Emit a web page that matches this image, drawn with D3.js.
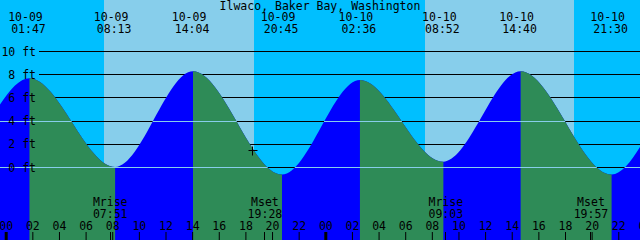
<!DOCTYPE html>
<html>
<head>
<meta charset="utf-8">
<script src="https://cdn.jsdelivr.net/npm/d3@7"></script>
<style>
  html, body { margin: 0; padding: 0; background: #fff; }
  svg { display: block; }
  text { font-family: 'DejaVu Sans Mono', monospace; font-size: 11.5px; fill: #000; }
</style>
</head>
<body>
<div id="chart"></div>
<script>
// tide chart data (times are MM-DD HH:MM local)
const stationName = "Ilwaco, Baker Bay, Washington";

// highs / lows; the first two and last two sit outside the chart edges
const tideTimes = ["10-08 13:20", "10-08 19:30", "10-09 01:47", "10-09 08:13", "10-09 14:04", "10-09 20:45",
                   "10-10 02:36", "10-10 08:52", "10-10 14:40", "10-10 21:30", "10-11 03:25", "10-11 09:30"];
const tideHeights = [8.2, -0.3, 7.7, 0.05, 8.3, -0.6, 7.55, 0.5, 8.3, -0.6, 7.4, 0.6];

const sunriseTimes = ["10-09 07:23", "10-10 07:29"];
const sunsetTimes = ["10-09 18:38", "10-10 18:40"];

const moonLabels = ["Mrise", "Mset", "Mrise", "Mset"];
const moonTimes = ["10-09 07:51", "10-09 19:28", "10-10 09:03", "10-10 19:57"];

const depthTicks = [0, 2, 4, 6, 8, 10];
const meanSeaLevel = 3.95;

const nowTime = "10-09 18:32";
const nowHeight = 1.45;

const W = 640, H = 240;
const colors = {
  night: '#00BFFF',
  day: '#87CEEB',
  flood: '#0000FF',
  ebb: '#2E8B57',
  under: '#87CEEB'
};

const parseTime = s => d3.utcParse("%Y-%m-%d %H:%M")("2024-" + s);

const tides = tideTimes.map((t, i) => ({ t: parseTime(t), h: tideHeights[i] }));

// x: two midnights anchor the scale, y: 0 ft and 10 ft lines
const x = d3.scaleUtc()
    .domain([parseTime("10-09 00:00"), parseTime("10-10 00:00")])
    .range([5.7, 325.3]);
const y = d3.scaleLinear().domain([0, 10]).range([167.5, 51.5]);

const svg = d3.select("#chart").append("svg")
    .attr("width", W)
    .attr("height", H);

// 1. night / day background
svg.append("rect").attr("width", W).attr("height", H).attr("fill", colors.night);
svg.append("g")
  .selectAll("rect")
  .data(sunriseTimes.map((s, i) => [parseTime(s), parseTime(sunsetTimes[i])]))
  .join("rect")
    .attr("x", d => Math.round(x(d[0])))
    .attr("width", d => Math.round(x(d[1])) - Math.round(x(d[0])))
    .attr("y", 0)
    .attr("height", H)
    .attr("fill", colors.day);

// 2. depth lines (under the water)
const crisp = v => Math.floor(v) + 0.5;
svg.append("g")
    .attr("stroke", "#000")
    .attr("shape-rendering", "crispEdges")
  .selectAll("line")
  .data(depthTicks)
  .join("line")
    .attr("x1", 39).attr("x2", W)
    .attr("y1", d => crisp(y(d)))
    .attr("y2", d => crisp(y(d)));

// 3. tide curve, flood blue, ebb green
const area = d3.area()
    .x(d => x(d.t))
    .y0(H)
    .y1(d => y(d.h))
    .curve(d3.curveMonotoneX);

const defs = svg.append("defs");
const ebbClip = defs.append("clipPath").attr("id", "ebb-clip");
d3.pairs(tides).filter(p => p[0].h > p[1].h).forEach(p => {
  ebbClip.append("rect")
      .attr("x", x(p[0].t))
      .attr("width", x(p[1].t) - x(p[0].t))
      .attr("y", 0)
      .attr("height", H);
});
defs.append("clipPath").attr("id", "water-clip")
  .append("path").attr("d", area(tides));

svg.append("path").attr("d", area(tides)).attr("fill", colors.flood);
svg.append("path").attr("d", area(tides)).attr("fill", colors.ebb)
    .attr("clip-path", "url(#ebb-clip)");

// datum + msl lines, only where under water
svg.append("g")
    .attr("clip-path", "url(#water-clip)")
    .attr("stroke", colors.under)
    .attr("shape-rendering", "crispEdges")
  .selectAll("line")
  .data([0, meanSeaLevel])
  .join("line")
    .attr("x1", 0).attr("x2", W)
    .attr("y1", d => crisp(y(d)))
    .attr("y2", d => crisp(y(d)));

// 4. depth labels
svg.append("g")
  .selectAll("text")
  .data(depthTicks)
  .join("text")
    .attr("x", 36)
    .attr("y", d => y(d) + 4)
    .attr("text-anchor", "end")
    .text(d => d + " ft");

// 5. title and high / low labels
svg.append("text")
    .attr("x", W / 2)
    .attr("y", 9.5)
    .attr("text-anchor", "middle")
    .text(stationName);

const visible = tides.filter(d => x(d.t) > 0 && x(d.t) < W);
const fmtDate = d3.utcFormat("%m-%d");
const fmtTime = d3.utcFormat("%H:%M");
const tideLabel = svg.append("g")
  .selectAll("g")
  .data(visible)
  .join("g")
    .attr("text-anchor", "middle");
tideLabel.append("text")
    .attr("x", d => x(d.t) - 4)
    .attr("y", 21)
    .text(d => fmtDate(d.t));
tideLabel.append("text")
    .attr("x", d => x(d.t) - 1)
    .attr("y", 33)
    .text(d => fmtTime(d.t));

// 6. hour axis along the bottom
const axisScale = x.copy()
    .domain([x.invert(-20), x.invert(W + 20)])
    .range([-20, W + 20]);
const axis = svg.append("g")
    .attr("transform", `translate(0,${H})`)
    .call(d3.axisTop(axisScale)
      .ticks(d3.utcHour.every(2))
      .tickSize(8)
      .tickPadding(2)
      .tickFormat(d3.utcFormat("%H")));
axis.select(".domain").remove();
axis.selectAll("line")
    .attr("stroke", "#000")
    .attr("stroke-width", d => d.getUTCHours() === 0 ? 3 : 1);
axis.selectAll("text")
    .attr("font-family", null)
    .attr("font-size", null)
    .attr("fill", "#000");

// 7. moon rise / set
const moon = moonTimes.map((t, i) => ({ t: parseTime(t), label: moonLabels[i] }));
svg.append("g")
    .attr("stroke", "#000")
  .selectAll("line")
  .data(moon)
  .join("line")
    .attr("x1", d => Math.floor(x(d.t)) + 0.5)
    .attr("x2", d => Math.floor(x(d.t)) + 0.5)
    .attr("y1", H - 8)
    .attr("y2", H);
const moonLabel = svg.append("g")
  .selectAll("g")
  .data(moon)
  .join("g")
    .attr("text-anchor", "middle");
moonLabel.append("text")
    .attr("x", d => x(d.t))
    .attr("y", 206)
    .text(d => d.label);
moonLabel.append("text")
    .attr("x", d => x(d.t))
    .attr("y", 217.5)
    .text(d => fmtTime(d.t));

// 8. "now" marker
const nx = Math.floor(x(parseTime(nowTime))) + 0.5;
const ny = Math.floor(y(nowHeight)) + 0.5;
svg.append("path")
    .attr("d", `M${nx - 4},${ny}H${nx + 5}M${nx},${ny - 4}V${ny + 5}`)
    .attr("stroke", "#000")
    .attr("fill", "none");
</script>
</body>
</html>
